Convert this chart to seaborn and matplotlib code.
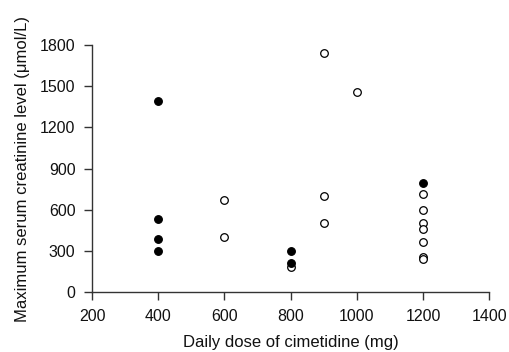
import numpy as np
import pandas as pd
import seaborn as sns
import matplotlib.pyplot as plt

# filled circles
filled_dose = [400, 400, 400, 400, 800, 800, 1200]
filled_level = [1391, 533, 387, 302, 297, 214, 793]

# open circles
open_dose = [600, 600, 800, 900, 900, 900, 1000,
             1200, 1200, 1200, 1200, 1200, 1200, 1200]
open_level = [671, 401, 185, 1739, 700, 501, 1457,
              715, 598, 506, 457, 365, 255, 241]

x_ticks = [200, 400, 600, 800, 1000, 1200, 1400]
y_ticks = [0, 300, 600, 900, 1200, 1500, 1800]


def main():
    sns.set_style("ticks")
    plt.rcParams['font.family'] = ['Liberation Sans', 'DejaVu Sans']

    filled_df = pd.DataFrame({'dose': filled_dose, 'level': filled_level})
    open_df = pd.DataFrame({'dose': open_dose, 'level': open_level})

    fig = plt.figure(figsize=(5.09, 3.52), dpi=100)
    ax = fig.add_axes([0.181, 0.170, 0.780, 0.702])

    sns.scatterplot(data=open_df, x='dose', y='level', ax=ax, s=30,
                    color='white', edgecolor='black', linewidth=0.9, zorder=3)
    sns.scatterplot(data=filled_df, x='dose', y='level', ax=ax, s=30,
                    color='black', edgecolor='black', linewidth=0.9, zorder=4)

    ax.set_xlim(200, 1400)
    ax.set_ylim(0, 1800)
    ax.set_xticks(x_ticks)
    ax.set_yticks(y_ticks)
    ax.tick_params(labelsize=11.5, length=6, width=1, color='#333333',
                   labelcolor='#111111', pad=6)
    ax.set_xlabel('Daily dose of cimetidine (mg)', fontsize=12, color='#111111',
                  labelpad=8)
    ax.set_ylabel('Maximum serum creatinine level (\u03bcmol/L)', fontsize=12,
                  color='#111111', labelpad=7)
    for s in ['left', 'bottom']:
        ax.spines[s].set_color('#333333')
        ax.spines[s].set_linewidth(1)
    sns.despine(ax=ax)

    fig.savefig('out.png', dpi=100)


if __name__ == "__main__":
    main()
